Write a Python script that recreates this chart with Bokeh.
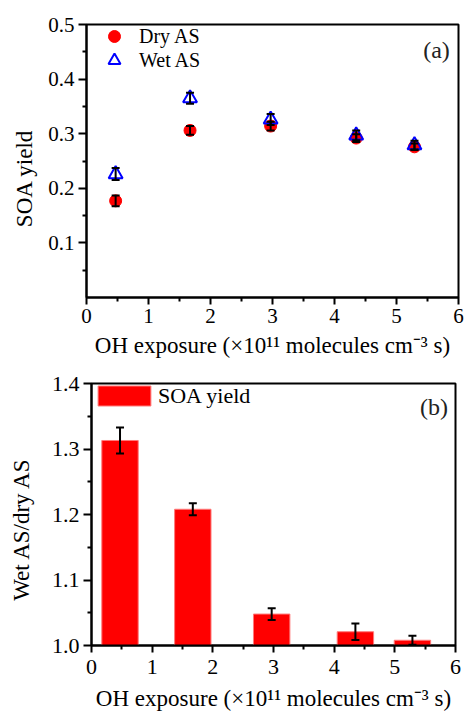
from bokeh.plotting import figure
from bokeh.models import (ColumnDataSource, Whisker, TeeHead, FixedTicker,
                          NumeralTickFormatter, Legend, LegendItem, Label, Range1d)
from bokeh.embed import file_html
from bokeh.resources import INLINE

# ---- data ----
oh_exposure = [0.47, 1.67, 2.97, 4.35, 5.29]
dry_yield = [0.177, 0.306, 0.314, 0.292, 0.276]
dry_err = [0.010, 0.008, 0.008, 0.007, 0.006]
wet_yield = [0.226, 0.365, 0.326, 0.297, 0.279]
wet_err = [0.011, 0.010, 0.010, 0.009, 0.008]
ratio = [1.313, 1.208, 1.048, 1.021, 1.008]
ratio_err = [0.020, 0.009, 0.009, 0.0125, 0.007]

x_ticks = [0, 1, 2, 3, 4, 5, 6]
x_minor = [0.5, 1.5, 2.5, 3.5, 4.5, 5.5]
y1_ticks = [0.1, 0.2, 0.3, 0.4, 0.5]
y1_minor = [0.05, 0.15, 0.25, 0.35, 0.45]
y2_ticks = [1.0, 1.1, 1.2, 1.3, 1.4]
y2_minor = [1.05, 1.15, 1.25, 1.35]

FONT = "Liberation Serif"
XTITLE = "OH exposure (\u00d710\u00b9\u00b9 molecules cm\u207b\u00b3 s)"
NB = "\u00a0"


def style_axes(p, tick_size, title_size):
    p.grid.visible = False
    p.outline_line_color = "black"
    p.outline_line_width = 2
    p.outline_line_alpha = 1
    p.background_fill_color = "white"
    p.border_fill_color = "white"
    for ax in p.axis:
        ax.axis_line_width = 2
        ax.axis_line_color = "black"
        ax.major_tick_line_width = 2
        ax.minor_tick_line_width = 2
        ax.major_tick_line_color = "black"
        ax.minor_tick_line_color = "black"
        ax.major_tick_in = 0
        ax.minor_tick_in = 0
        ax.major_tick_out = 8
        ax.minor_tick_out = 4
        ax.major_label_text_font = FONT
        ax.major_label_text_font_size = tick_size
        ax.major_label_text_color = "black"
        ax.axis_label_text_font = FONT
        ax.axis_label_text_font_size = title_size
        ax.axis_label_text_font_style = "normal"
        ax.axis_label_text_color = "black"
        ax.major_label_standoff = 4


def make_legend(item, loc, gw, gh, lh, standoff, size):
    return Legend(items=[item], location=loc, glyph_width=gw, glyph_height=gh,
                  spacing=0, padding=0, margin=0, label_standoff=standoff,
                  label_height=lh, label_text_font=FONT, label_text_font_size=size,
                  label_text_color="black", border_line_color=None,
                  background_fill_alpha=0)


# ---------------- panel (a) ----------------
p1 = figure(width=464, height=360, x_range=Range1d(0, 6), y_range=Range1d(0, 0.5),
            output_backend="svg", toolbar_location=None,
            min_border_left=86, min_border_right=6, min_border_top=24, min_border_bottom=62)
style_axes(p1, "21px", "23px")
p1.xaxis.ticker = FixedTicker(ticks=x_ticks, minor_ticks=x_minor)
p1.xaxis.formatter = NumeralTickFormatter(format="0")
p1.yaxis.ticker = FixedTicker(ticks=y1_ticks, minor_ticks=y1_minor)
p1.yaxis.formatter = NumeralTickFormatter(format="0.0")
p1.xaxis.axis_label = XTITLE
p1.yaxis.axis_label = "SOA yield" + NB * 6
p1.xaxis.axis_label_standoff = 7
p1.yaxis.axis_label_standoff = 8
p1.xaxis.major_tick_out = 7

src_dry = ColumnDataSource(dict(x=oh_exposure, y=dry_yield,
                                lo=[v - e for v, e in zip(dry_yield, dry_err)],
                                hi=[v + e for v, e in zip(dry_yield, dry_err)]))
src_wet = ColumnDataSource(dict(x=oh_exposure, y=wet_yield,
                                lo=[v - e for v, e in zip(wet_yield, wet_err)],
                                hi=[v + e for v, e in zip(wet_yield, wet_err)]))

r_dry = p1.scatter("x", "y", source=src_dry, marker="circle", size=12,
                   fill_color="#ff0000", line_color="#ff0000")
r_wet = p1.scatter("x", "y", source=src_wet, marker="triangle", size=14,
                   fill_color="white", fill_alpha=0, line_color="#0000ff", line_width=2)

for s in (src_dry, src_wet):
    p1.add_layout(Whisker(source=s, base="x", lower="lo", upper="hi", dimension="height",
                          line_color="black", line_width=2, level="annotation",
                          upper_head=TeeHead(size=8, line_width=2, line_color="black"),
                          lower_head=TeeHead(size=8, line_width=2, line_color="black")))

p1.add_layout(make_legend(LegendItem(label="Dry AS", renderers=[r_dry]),
                          (13, 246), 30, 30, 30, 10, "20px"))
p1.add_layout(make_legend(LegendItem(label="Wet AS", renderers=[r_wet]),
                          (13, 222), 30, 30, 30, 10, "20px"))
p1.add_layout(Label(x=5.645, y=0.454, text="(a)", text_font=FONT, text_font_size="24px",
                    text_align="center", text_baseline="middle", text_color="#222222"))

# ---------------- panel (b) ----------------
p2 = figure(width=464, height=353, x_range=Range1d(0, 6), y_range=Range1d(1.0, 1.4),
            output_backend="svg", toolbar_location=None,
            min_border_left=91, min_border_right=9, min_border_top=23, min_border_bottom=66)
style_axes(p2, "22px", "23px")
p2.xaxis.ticker = FixedTicker(ticks=x_ticks, minor_ticks=x_minor)
p2.xaxis.formatter = NumeralTickFormatter(format="0")
p2.yaxis.ticker = FixedTicker(ticks=y2_ticks, minor_ticks=y2_minor)
p2.yaxis.formatter = NumeralTickFormatter(format="0.0")
p2.xaxis.axis_label = XTITLE
p2.yaxis.axis_label = "Wet AS/dry AS" + NB * 5
p2.xaxis.major_label_standoff = 7
p2.xaxis.axis_label_standoff = 9
p2.xaxis.axis_label_text_line_height = 0.7
p2.yaxis.axis_label_standoff = 15
p2.xaxis.major_tick_out = 7

src_ratio = ColumnDataSource(dict(x=oh_exposure, top=ratio,
                                  lo=[v - e for v, e in zip(ratio, ratio_err)],
                                  hi=[v + e for v, e in zip(ratio, ratio_err)]))
r_bar = p2.vbar(x="x", top="top", bottom=y2_ticks[0], width=0.6, source=src_ratio,
                fill_color="#ff0000", line_color="#ff7a7a", line_width=1)
p2.add_layout(Whisker(source=src_ratio, base="x", lower="lo", upper="hi", dimension="height",
                      line_color="black", line_width=2, level="annotation",
                      upper_head=TeeHead(size=8, line_width=2, line_color="black"),
                      lower_head=TeeHead(size=8, line_width=2, line_color="black")))

p2.add_layout(make_legend(LegendItem(label="SOA yield", renderers=[r_bar]),
                          (0, 235), 66, 25, 29, 1, "22px"))
p2.add_layout(Label(x=5.645, y=1.364, text="(b)", text_font=FONT, text_font_size="24px",
                    text_align="center", text_baseline="middle", text_color="#222222"))

open("out.html", "w").write(file_html([p1, p2], INLINE))
